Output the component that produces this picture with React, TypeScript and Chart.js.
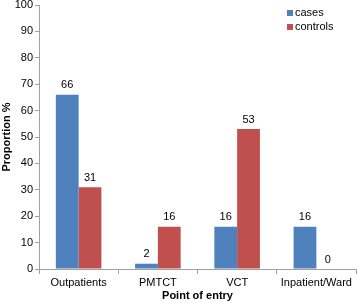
import React, { useEffect, useRef } from "react";
import { Chart, registerables } from "chart.js";

Chart.register(...registerables);

const categories = ["Outpatients", "PMTCT", "VCT", "Inpatient/Ward"];
const casesValues = [66, 2, 16, 16];
const controlsValues = [31, 16, 53, 0];
const seriesNames = ["cases", "controls"];
const seriesColors = ["#4F81BD", "#C0504D"];
const yTicks = [0, 10, 20, 30, 40, 50, 60, 70, 80, 90, 100];

const FONT = "'Liberation Sans', Arial, sans-serif";

const valueLabels = {
  id: "valueLabels",
  afterDatasetsDraw(chart: any) {
    const ctx = chart.ctx;
    ctx.save();
    ctx.font = `11px ${FONT}`;
    ctx.fillStyle = "#000";
    ctx.textAlign = "center";
    ctx.textBaseline = "bottom";
    chart.data.datasets.forEach((ds: any, i: number) => {
      const meta = chart.getDatasetMeta(i);
      meta.data.forEach((bar: any, j: number) => {
        ctx.fillText(String(ds.data[j]), bar.x, bar.y - 4);
      });
    });
    ctx.restore();
  },
};

const customLegend = {
  id: "customLegend",
  afterDraw(chart: any) {
    const ctx = chart.ctx;
    ctx.save();
    ctx.font = `11px ${FONT}`;
    ctx.textBaseline = "middle";
    ctx.textAlign = "left";
    seriesNames.forEach((name, i) => {
      const y = 13 + i * 14;
      ctx.fillStyle = seriesColors[i];
      ctx.fillRect(287, y - 3, 6, 6);
      ctx.fillStyle = "#000";
      ctx.fillText(name, 295, y);
    });
    ctx.restore();
  },
};

export default function App() {
  const ref = useRef<HTMLCanvasElement>(null);
  useEffect(() => {
    document.body.style.margin = "0";
    const chart = new Chart(ref.current!, {
      type: "bar",
      data: {
        labels: categories,
        datasets: [
          { label: seriesNames[0], data: casesValues, backgroundColor: seriesColors[0], categoryPercentage: 0.575, barPercentage: 1 },
          { label: seriesNames[1], data: controlsValues, backgroundColor: seriesColors[1], categoryPercentage: 0.575, barPercentage: 1 },
        ],
      },
      options: {
        animation: false,
        responsive: false,
        layout: { padding: { top: 5, right: 2, left: 0, bottom: 0 } },
        plugins: { legend: { display: false }, tooltip: { enabled: false } },
        scales: {
          x: {
            grid: { drawOnChartArea: false, color: "#A0A0A0", tickLength: 5, offset: true },
            border: { color: "#A0A0A0" },
            ticks: { color: "#000", font: { family: FONT, size: 11 }, padding: 2, maxRotation: 0, autoSkip: false },
            title: { display: true, text: "Point of entry", color: "#000", font: { family: FONT, size: 11, weight: "bold" }, padding: { top: 0, bottom: 0 } },
            afterFit(scale: any) { scale.height = 34; scale.paddingLeft = 0; scale.paddingRight = 0; },
          },
          y: {
            min: 0,
            max: 100,
            afterBuildTicks(scale: any) { scale.ticks = yTicks.map((v) => ({ value: v })); },
            grid: { drawOnChartArea: false, color: "#A0A0A0", tickLength: 4 },
            border: { color: "#A0A0A0" },
            ticks: { color: "#000", font: { family: FONT, size: 11 }, padding: 2 },
            title: { display: true, text: "Proportion %", color: "#000", font: { family: FONT, size: 11, weight: "bold" }, padding: { top: 0, bottom: 0 } },
            afterFit(scale: any) { scale.width = 39; scale.paddingTop = 0; scale.paddingBottom = 0; },
          },
        },
      } as any,
      plugins: [valueLabels, customLegend],
    });
    return () => chart.destroy();
  }, []);
  return <canvas ref={ref} width={358} height={303} style={{ display: "block" }} />;
}
